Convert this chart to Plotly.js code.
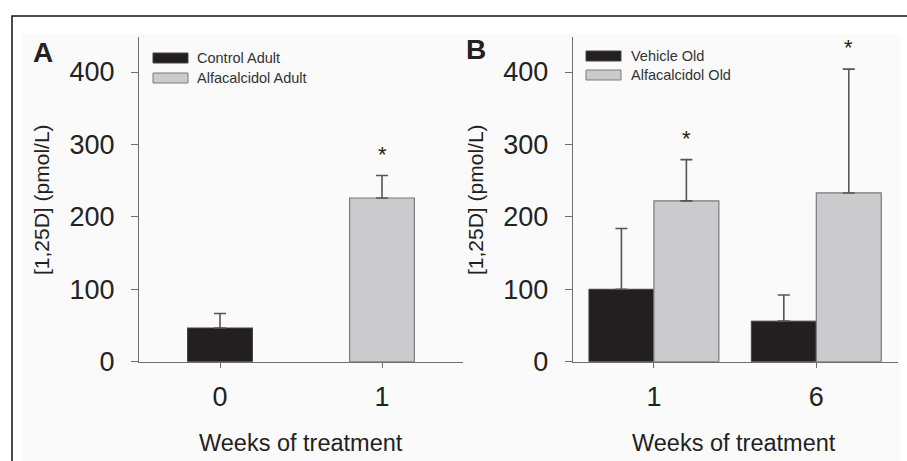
<!DOCTYPE html>
<html>
<head>
<meta charset="utf-8">
<script src="https://cdn.plot.ly/plotly-3.0.1.min.js"></script>
<style>html,body{margin:0;padding:0;background:#fff;} #chart{width:907px;height:461px;}</style>
</head>
<body>
<div id="chart"></div>
<script>
// Panel A data (one bar per week: Control Adult at week 0, Alfacalcidol Adult at week 1)
const weeksA = ["0", "1"];
const groupsA = ["Control Adult", "Alfacalcidol Adult"];
const valuesA = [46.5, 226];
const errorsA = [20, 31];
const sigA = [false, true];

// Panel B data
const weeksB = ["1", "6"];
const vehicleOld = [100, 56];
const vehicleOldErr = [84, 36];
const alfaOld = [222, 233];
const alfaOldErr = [57, 171];
const sigB = [true, true];       // asterisk on Alfacalcidol Old

const yTicks = [0, 100, 200, 300, 400];

const W = 907, H = 461;
const px = v => v / W, py = v => 1 - v / H;

const dark = "#231f20", light = "#cbcbcd", axisCol = "#6e6e6e", txt = "#222";
const darkLine = "#444", lightLine = "#7a7a7a";
const errStyle = (arr) => ({type: "data", array: arr, arrayminus: arr.map(() => 0), symmetric: false,
  color: "#555", thickness: 1.6, width: 6});

const isDark = groupsA.map(g => g.startsWith("Control"));

const traces = [
  {type: "bar", x: weeksA, y: valuesA, xaxis: "x", yaxis: "y", width: 0.4, name: "Adult",
   marker: {color: isDark.map(d => d ? dark : light), line: {color: isDark.map(d => d ? darkLine : lightLine), width: 1.2}},
   error_y: errStyle(errorsA), showlegend: false},
  {type: "bar", x: weeksB, y: vehicleOld, xaxis: "x2", yaxis: "y2", name: "Vehicle Old",
   marker: {color: dark, line: {color: darkLine, width: 1}}, error_y: errStyle(vehicleOldErr), showlegend: false},
  {type: "bar", x: weeksB, y: alfaOld, xaxis: "x2", yaxis: "y2", name: "Alfacalcidol Old",
   marker: {color: light, line: {color: lightLine, width: 1.2}}, error_y: errStyle(alfaOldErr), showlegend: false}
];

const fam = "Liberation Sans, Arial, sans-serif";
const font = {family: fam, color: txt};
const yTop = 37, yZero = 361.7;
const yDom = [py(yZero), py(yTop)];
const yMax = 400 * (yZero - yTop) / (yZero - 72);

function yAx(anchor) {
  return {domain: yDom, range: [0, yMax], tickvals: yTicks, ticktext: yTicks.map(String), anchor: anchor,
    showline: true, linecolor: axisCol, linewidth: 1, ticks: "outside", ticklen: 7, tickcolor: axisCol,
    showgrid: false, zeroline: false, tickfont: {family: fam, size: 27, color: txt},
    ticklabelstandoff: 11, fixedrange: true};
}
function xAx(dom, anchor) {
  return {domain: dom, type: "category", range: [-0.5, 1.5], anchor: anchor,
    showline: true, linecolor: axisCol, linewidth: 1, ticks: "outside", ticklen: 5, tickcolor: axisCol,
    showgrid: false, tickfont: {family: fam, size: 27, color: txt}, ticklabelstandoff: 6, fixedrange: true};
}

function pAnn(x, y, text, size, extra) {
  return Object.assign({xref: "paper", yref: "paper", x: px(x), y: py(y), text: text, showarrow: false,
    xanchor: "center", yanchor: "middle", font: {family: fam, size: size, color: txt}}, extra || {});
}

const annotations = [
  pAnn(43, 53, "<b>A</b>", 28),
  pAnn(476, 50, "<b>B</b>", 28),
  pAnn(41, 200, "[1,25D] (pmol/L)", 21, {textangle: -90}),
  pAnn(475, 200, "[1,25D] (pmol/L)", 21, {textangle: -90}),
  pAnn(301, 443, "Weeks of treatment", 23.5),
  pAnn(734, 443, "Weeks of treatment", 23.5),
  // legends
  pAnn(195, 58, groupsA[0], 14.5, {xanchor: "left", font: {family: fam, size: 14.5, color: "#333"}}),
  pAnn(195, 78, groupsA[1], 14.5, {xanchor: "left", font: {family: fam, size: 14.5, color: "#333"}}),
  pAnn(629, 56, "Vehicle Old", 14.5, {xanchor: "left", font: {family: fam, size: 14.5, color: "#333"}}),
  pAnn(629, 75, "Alfacalcidol Old", 14.5, {xanchor: "left", font: {family: fam, size: 14.5, color: "#333"}})
];

// significance asterisks, placed above the error bar tops
weeksA.forEach((w, i) => {
  if (sigA[i]) annotations.push({xref: "x", yref: "y", x: i, y: valuesA[i] + errorsA[i],
    text: "*", showarrow: false, xanchor: "center", yanchor: "bottom", yshift: 7, font: {family: fam, size: 22, color: txt}});
});
weeksB.forEach((w, i) => {
  if (sigB[i]) annotations.push({xref: "x2", yref: "y2", x: i + 0.2, y: alfaOld[i] + alfaOldErr[i],
    text: "*", showarrow: false, xanchor: "center", yanchor: "bottom", yshift: 7, font: {family: fam, size: 22, color: txt}});
});

const shapes = [
  // outer frame
  {type: "rect", xref: "paper", yref: "paper", x0: px(12), x1: px(930), y0: py(490), y1: py(16), line: {color: "#111", width: 1.5}, fillcolor: "rgba(0,0,0,0)", layer: "below"},
  {type: "rect", xref: "paper", yref: "paper", x0: px(23), x1: px(900), y0: py(470), y1: py(34), line: {width: 0}, fillcolor: "#fafafa", layer: "below"},
  // legend swatches A
  {type: "rect", xref: "paper", yref: "paper", x0: px(153), x1: px(188), y0: py(63), y1: py(53), fillcolor: dark, line: {color: darkLine, width: 1}},
  {type: "rect", xref: "paper", yref: "paper", x0: px(153), x1: px(188), y0: py(83), y1: py(73), fillcolor: light, line: {color: lightLine, width: 1}},
  // legend swatches B
  {type: "rect", xref: "paper", yref: "paper", x0: px(586), x1: px(621), y0: py(61), y1: py(51), fillcolor: dark, line: {color: darkLine, width: 1}},
  {type: "rect", xref: "paper", yref: "paper", x0: px(586), x1: px(621), y0: py(80), y1: py(70), fillcolor: light, line: {color: lightLine, width: 1}}
];

const layout = {
  width: W, height: H, margin: {l: 0, r: 0, t: 0, b: 0},
  paper_bgcolor: "#ffffff", plot_bgcolor: "rgba(0,0,0,0)",
  barmode: "group", bargap: 0.2, bargroupgap: 0, showlegend: false, font: font,
  xaxis: xAx([px(139), px(463)], "y"),
  yaxis: yAx("x"),
  xaxis2: xAx([px(572.7), px(897.5)], "y2"),
  yaxis2: yAx("x2"),
  annotations: annotations, shapes: shapes
};

Plotly.newPlot("chart", traces, layout, {displayModeBar: false, staticPlot: true});
</script>
</body>
</html>
